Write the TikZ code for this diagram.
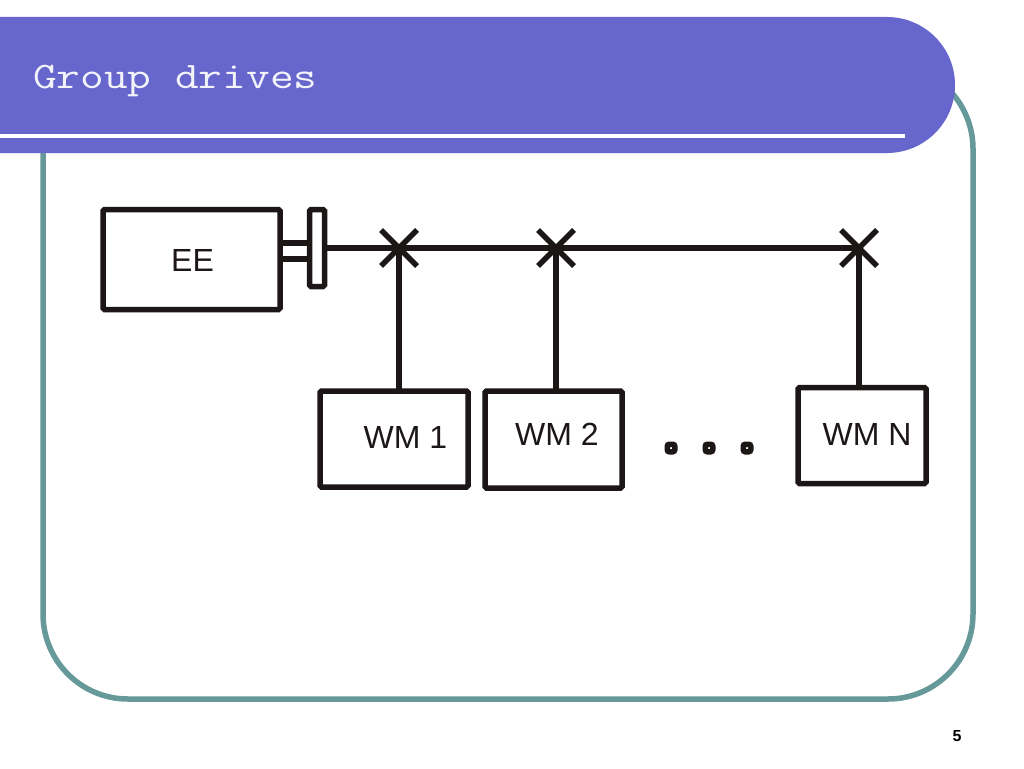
\documentclass[tikz,border=0pt]{standalone}
\usepackage{fontspec}
\setmainfont{Liberation Sans}
\usetikzlibrary{shapes.misc}
\definecolor{bannerblue}{HTML}{6666CC}
\definecolor{frameteal}{HTML}{669999}
\definecolor{inkblack}{HTML}{1C1716}
\tikzset{
    plant/.style={draw=inkblack,line width=5.5pt,rounded corners=1.5pt,inner sep=0pt,outer sep=0pt},
    shaft/.style={draw=inkblack,line width=5.5pt},
    joint/.style={cross out,draw=inkblack,line width=5.5pt,minimum size=36pt,inner sep=0pt,outer sep=0pt},
    dot/.style={rectangle,draw=inkblack,fill=white,line width=5.5pt,rounded corners=2pt,minimum size=7.5pt,inner sep=0pt},
    caption/.style={text=inkblack,font=\fontsize{32}{32}\selectfont,inner sep=0pt}
}
\begin{document}
\begin{tikzpicture}[x=1pt,y=-1pt]
        \useasboundingbox[fill=white] (0,0) rectangle (1024,768);
        % frame and banner
        \draw[frameteal,line width=5.5pt,rounded corners=85pt] (43,64) rectangle (973,699);
        \fill[bannerblue] (0,17) [rounded corners=68pt] -- (955,17) -- (955,153) [sharp corners] -- (0,153) -- cycle;
        \fill[white] (0,134) rectangle (905,138);
        \node[anchor=base west,inner sep=0pt,xscale=1.226,transform shape,text=white!92!bannerblue,font=\ttfamily\fontsize{37.5}{37.5}\selectfont] (title) at (33,88) {Group drives};
        % motor and clutch
        \node[plant,minimum width=177pt,minimum height=100pt] (ee) at (191.5,259.5) {};
        \node[plant,minimum width=15pt,minimum height=77pt] (clutch) at (317,248) {};
        \coordinate (shafta) at (0,243);
        \coordinate (shaftb) at (0,259);
        \draw[shaft] (ee.east |- shafta) -- (clutch.west |- shafta);
        \draw[shaft] (ee.east |- shaftb) -- (clutch.west |- shaftb);
        % line shaft
        \node[joint] (xa) at (399,248) {};
        \node[joint] (xb) at (556,248) {};
        \node[joint] (xn) at (859,248) {};
        \draw[shaft] (clutch.east) -- (xn.center);
        % working machines
        \node[plant,minimum width=148pt,minimum height=96pt] (wma) at (394,439) {};
        \node[plant,minimum width=137pt,minimum height=97pt] (wmb) at (553.5,439.5) {};
        \node[plant,minimum width=128pt,minimum height=96pt] (wmn) at (862,435.5) {};
        \draw[shaft] (xa.center) -- (xa.center |- wma.north);
        \draw[shaft] (xb.center) -- (xb.center |- wmb.north);
        \draw[shaft] (xn.center) -- (xn.center |- wmn.north);
        \node[dot] (dota) at (671,448) {};
        \node[dot] (dotb) at (709,448) {};
        \node[dot] (dotc) at (747,448) {};
        % labels
        \node[caption] (eetext) at (192.5,260) {EE};
        \node[caption] (wmatext) at (405.5,437) {WM 1};
        \node[caption] (wmbtext) at (557,434) {WM 2};
        \node[caption] (wmntext) at (867,434) {WM N};
        \node[text=black,font=\bfseries\fontsize{16}{16}\selectfont,inner sep=0pt] (pagenum) at (957,736) {5};
    \end{tikzpicture}
\end{document}
